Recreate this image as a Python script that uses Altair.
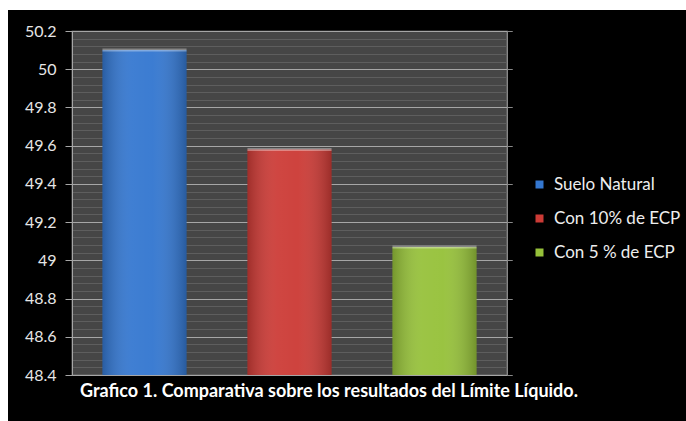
import altair as alt
import pandas as pd

# Liquid limit results for each soil treatment
series = ["Suelo Natural", "Con 10% de ECP", "Con 5 % de ECP"]
values = [50.10, 49.58, 49.07]
colors = ["#3477d0", "#cc3b36", "#96c13a"]

y_ticks = [48.4, 48.6, 48.8, 49.0, 49.2, 49.4, 49.6, 49.8, 50.0, 50.2]
y_minor = [round(48.4 + 0.04 * i, 2) for i in range(46)]

caption = "Grafico  1. Comparativa  sobre los resultados del Límite Líquido."

df = pd.DataFrame({"serie": series, "valor": values})

FONT = "Lato"

x_enc = alt.X("serie:N", sort=series, axis=None,
              scale=alt.Scale(paddingInner=0.42, paddingOuter=0.21))
y_scale = alt.Scale(domain=[48.4, 50.2], nice=False, zero=False)

# faint texture lines behind the bars
minor = alt.Chart(df).mark_bar(opacity=0).encode(
    x=x_enc,
    y=alt.Y("valor:Q", scale=y_scale,
            axis=alt.Axis(orient="left", values=y_minor, grid=True,
                          gridColor="#5e5e5e", gridWidth=1, labels=False,
                          ticks=False, domain=False, title=None)),
)

bars = alt.Chart(df).mark_bar().encode(
    x=x_enc,
    y=alt.Y("valor:Q", scale=y_scale,
            axis=alt.Axis(orient="left", values=y_ticks, format=".1~f",
                          grid=True, gridColor="#a6a6a6", gridWidth=1.2,
                          tickSize=7, tickColor="#a6a6a6",
                          domainColor="#a6a6a6", labelPadding=9,
                          labelFont=FONT, labelFontSize=16,
                          labelColor="#e6e6e6", title=None)),
    y2=alt.datum(48.4),
    color=alt.Color("serie:N", sort=series,
                    scale=alt.Scale(domain=series, range=colors),
                    legend=alt.Legend(title=None, orient="none",
                                      legendX=459, legendY=145,
                                      symbolType="square", symbolSize=64,
                                      symbolStrokeWidth=0,
                                      labelFont=FONT, labelFontSize=17,
                                      labelColor="#eeeeee", rowPadding=16,
                                      labelOffset=6)),
)

# rounded shading across each bar
shade = alt.Chart(df).mark_bar(
    color=alt.LinearGradient(
        gradient="linear", x1=0, x2=1, y1=0, y2=0,
        stops=[alt.GradientStop(offset=0, color="rgba(0,0,0,0.22)"),
               alt.GradientStop(offset=0.35, color="rgba(255,255,255,0.06)"),
               alt.GradientStop(offset=0.6, color="rgba(255,255,255,0.04)"),
               alt.GradientStop(offset=1, color="rgba(0,0,0,0.24)")])
).encode(x=x_enc, y=alt.Y("valor:Q", scale=y_scale), y2=alt.datum(48.4))

# light bevel along the top of each bar
cap = alt.Chart(df).mark_tick(thickness=3, opacity=0.35, color="#ffffff",
                              bandSize=82).encode(
    x=x_enc, y=alt.Y("valor:Q", scale=y_scale))

# caption line under the plot
caption_text = alt.Chart(alt.Data(values=[{"t": caption}])).mark_text(
    align="left", baseline="middle", font=FONT, fontSize=18,
    fontWeight="bold", color="#ffffff"
).encode(x=alt.value(8), y=alt.value(361), text="t:N")

# white page strips around the black panel
strip_top = alt.Chart(alt.Data(values=[{}])).mark_rect(color="white").encode(
    x=alt.value(-72), x2=alt.value(614), y=alt.value(-31), y2=alt.value(-21))
strip_left = alt.Chart(alt.Data(values=[{}])).mark_rect(color="white").encode(
    x=alt.value(-72), x2=alt.value(-64), y=alt.value(-31), y2=alt.value(390))

chart = alt.layer(minor, bars, shade, cap, caption_text, strip_top,
                  strip_left).resolve_axis(
    y="independent"
).properties(
    width=435,
    height=344,
    background="black",
    padding={"left": 72, "top": 31, "right": 179, "bottom": 46},
    autosize=alt.AutoSizeParams(type="none"),
).configure_view(
    fill="#464646",
    stroke="#9a9a9a",
    strokeWidth=1.2,
)

chart.save("out.html", embed_options={"renderer": "svg", "actions": False})
